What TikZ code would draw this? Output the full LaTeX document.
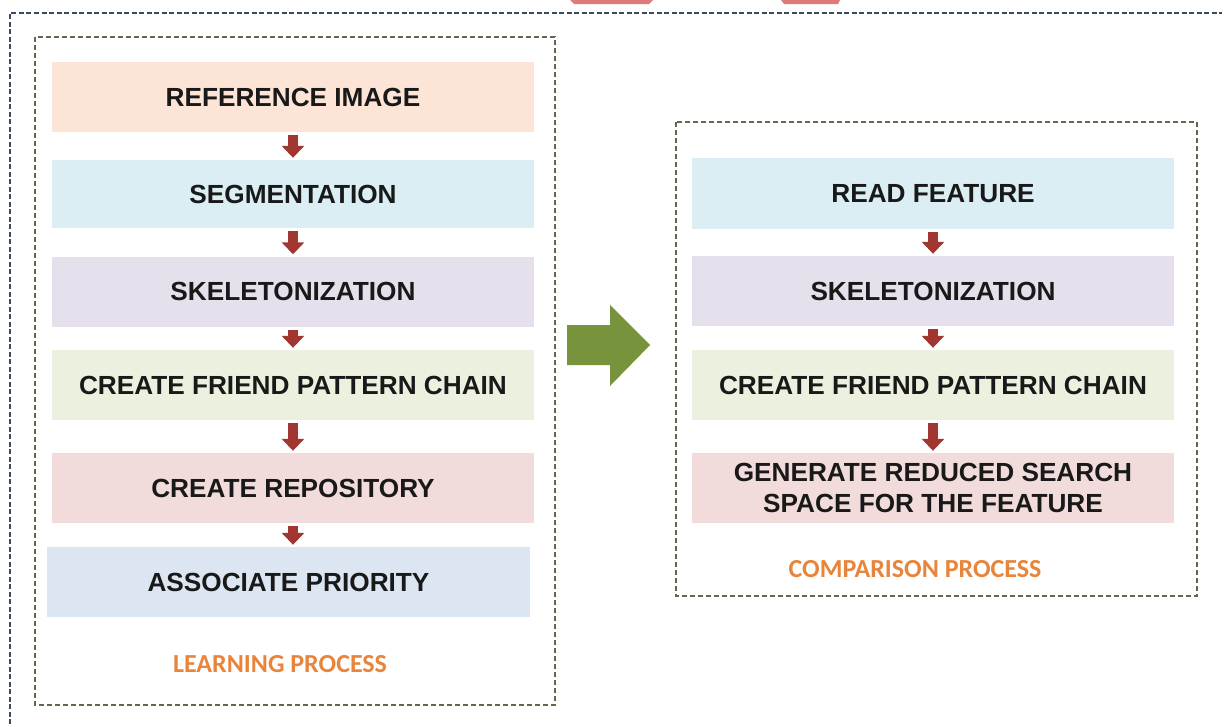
\documentclass[tikz,border=0pt]{standalone}
\usepackage{fontspec}
\setmainfont{Liberation Sans}
\newfontfamily\labelfont{Carlito}
\usetikzlibrary{arrows.meta}
\definecolor{peach}{HTML}{FCE4D6}
\definecolor{lblue}{HTML}{DAEEF3}
\definecolor{lav}{HTML}{E5E0EC}
\definecolor{lgreen}{HTML}{EBF1DE}
\definecolor{lpink}{HTML}{F2DCDB}
\definecolor{sblue}{HTML}{DCE6F2}
\definecolor{arrred}{HTML}{A0362F}
\definecolor{bigarr}{HTML}{77933C}
\definecolor{frameblue}{HTML}{3B4A5E}
\definecolor{frameolive}{HTML}{66664E}
\definecolor{orangetxt}{HTML}{E8853A}
\definecolor{topred}{HTML}{E07A78}
\tikzset{
  stepbox/.style={fill=#1, draw=none, inner sep=0pt, minimum width=482pt, minimum height=70pt,
    font=\fontsize{26.2}{31}\selectfont\bfseries, text=black!90, align=center},
  downarrow/.style={draw=arrred, line width=10pt, shorten <=3pt, shorten >=2pt,
    -{Triangle[width=22pt,length=12pt]}},
  groupframe/.style={draw=frameolive, line width=2pt, dash pattern=on 5pt off 3pt},
  grouplabel/.style={font=\labelfont\fontsize{26}{28}\selectfont\bfseries, text=orangetxt}
}
\begin{document}
\begin{tikzpicture}[x=1pt,y=-1pt]
\useasboundingbox (0,0) rectangle (1222,724);
\fill[white] (0,0) rectangle (1222,724);
% top red fragments
\fill[topred] (570,0) -- (653,0) -- (649,4) -- (574,4) -- cycle;
\fill[topred] (781,0) -- (840,0) -- (838,4) -- (784,4) -- cycle;
% outer frame (only top and left visible)
\draw[frameblue, line width=2.5pt, dash pattern=on 5pt off 2.5pt] (10,724) -- (10,13) -- (1222,13);
% group frames
\draw[groupframe] (35,37) rectangle (555,705);
\draw[groupframe] (676,122) rectangle (1197,596);
% learning process
\node[stepbox=peach] (r1) at (293,97) {REFERENCE IMAGE};
\node[stepbox=lblue, minimum height=68pt] (r2) at (293,194) {SEGMENTATION};
\node[stepbox=lav] (r3) at (293,291.5) {SKELETONIZATION};
\node[stepbox=lgreen] (r4) at (293,385) {CREATE FRIEND PATTERN CHAIN};
\node[stepbox=lpink] (r5) at (293,488) {CREATE REPOSITORY};
\node[stepbox=sblue, minimum width=483pt] (r6) at (288.5,582) {ASSOCIATE PRIORITY};
\draw[downarrow] (r1.south) -- (r2.north);
\draw[downarrow] (r2.south) -- (r3.north);
\draw[downarrow] (r3.south) -- (r4.north);
\draw[downarrow] (r4.south) -- (r5.north);
\draw[downarrow] (r5.south) -- (r6.north-|r5.south);
\node[grouplabel] (lp) at (280,664) {LEARNING PROCESS};
% comparison process
\node[stepbox=lblue, minimum height=71pt] (c1) at (933,193.5) {READ FEATURE};
\node[stepbox=lav] (c2) at (933,291) {SKELETONIZATION};
\node[stepbox=lgreen] (c3) at (933,385) {CREATE FRIEND PATTERN CHAIN};
\node[stepbox=lpink] (c4) at (933,488) {GENERATE REDUCED SEARCH\\SPACE FOR THE FEATURE};
\draw[downarrow] (c1.south) -- (c2.north);
\draw[downarrow] (c2.south) -- (c3.north);
\draw[downarrow] (c3.south) -- (c4.north);
\node[grouplabel] (cp) at (915,569) {COMPARISON PROCESS};
% big green arrow
\fill[bigarr] (567,325) -- (610,325) -- (610,305) -- (650,345) -- (610,386) -- (610,365) -- (567,365) -- cycle;
\end{tikzpicture}
\end{document}
